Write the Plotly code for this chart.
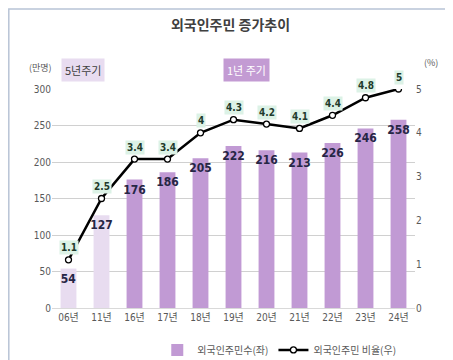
import plotly.graph_objects as go

years = ["06년", "11년", "16년", "17년", "18년", "19년", "20년", "21년", "22년", "23년", "24년"]
residents = [54, 127, 176, 186, 205, 222, 216, 213, 226, 246, 258]
ratio = [1.1, 2.5, 3.4, 3.4, 4.0, 4.3, 4.2, 4.1, 4.4, 4.8, 5.0]
ratio_labels = ["1.1", "2.5", "3.4", "3.4", "4", "4.3", "4.2", "4.1", "4.4", "4.8", "5"]
five_year_count = 2  # 06년, 11년 are the 5-year-cycle points

CJK = "Noto Sans CJK KR"
NARROW = "DejaVu Sans Condensed, Liberation Sans Narrow, Noto Sans CJK KR"
LIGHT = "#e8dcf0"
DARK = "#c19ad4"

fig = go.Figure()
bar_style = dict(width=0.48, textposition="inside", insidetextanchor="end", textangle=0,
                 constraintext="none", cliponaxis=False,
                 textfont=dict(family=NARROW, size=12, color="#262645"))
fig.add_trace(go.Bar(
    x=years[:five_year_count], y=residents[:five_year_count], name="외국인주민수(좌)",
    showlegend=False, marker=dict(color=LIGHT, line=dict(width=0)),
    text=["<b>" + str(v) + "</b>" for v in residents[:five_year_count]], **bar_style,
))
fig.add_trace(go.Bar(
    x=years[five_year_count:], y=residents[five_year_count:], name="외국인주민수(좌)",
    marker=dict(color=DARK, line=dict(width=0)),
    text=["<b>" + str(v) + "</b>" for v in residents[five_year_count:]], **bar_style,
))
fig.add_trace(go.Scatter(
    x=years, y=ratio, name="외국인주민 비율(우)", yaxis="y2",
    mode="lines+markers",
    line=dict(color="#000000", width=2.5),
    marker=dict(symbol="circle", size=6, color="white", line=dict(color="#000000", width=1.3)),
))

annotations = []
for yr, r, lab in zip(years, ratio, ratio_labels):
    annotations.append(dict(
        x=yr, y=r, xref="x", yref="y2", text="<b>" + lab + "</b>", showarrow=False,
        yshift=12, bgcolor="#dcf2e6", borderpad=1,
        font=dict(family=NARROW, size=10, color="#1f3a2c"),
    ))
annotations += [
    dict(x=0.085, y=1.087, xref="paper", yref="paper", text="5년주기", showarrow=False,
         xanchor="center", yanchor="middle", bgcolor="#e8dcf0", borderpad=3,
         font=dict(family=CJK, size=11, color="#404040")),
    dict(x=0.537, y=1.087, xref="paper", yref="paper", text="1년 주기", showarrow=False,
         xanchor="center", yanchor="middle", bgcolor="#c39bd3", borderpad=3,
         font=dict(family=CJK, size=11, color="#ffffff")),
    dict(x=-0.033, y=1.096, xref="paper", yref="paper", text="(만명)", showarrow=False,
         xanchor="center", yanchor="middle", font=dict(family=CJK, size=9, color="#595959")),
    dict(x=1.02, y=1.123, xref="paper", yref="paper", text="(%)", showarrow=False,
         xanchor="left", yanchor="middle", font=dict(family=CJK, size=9, color="#595959")),
]

fig.update_layout(
    width=445, height=352,
    margin=dict(l=44, r=38, t=81, b=52, autoexpand=False),
    paper_bgcolor="white", plot_bgcolor="white",
    title=dict(text="<b>외국인주민 증가추이</b>", x=0.5, xanchor="center", y=0.952, yanchor="middle",
               font=dict(family=CJK, size=14, color="#404040")),
    font=dict(family=NARROW, color="#595959"),
    barmode="overlay",
    showlegend=True,
    legend=dict(orientation="h", x=0.29, y=-0.125, xanchor="left", yanchor="top",
                font=dict(family=CJK, size=10, color="#595959"), itemwidth=30),
    xaxis=dict(type="category", categoryorder="array", categoryarray=years,
               range=[-0.5, 10.5], showgrid=False, showline=True,
               linecolor="#d9d9d9", ticks="", tickfont=dict(family=NARROW, size=10, color="#595959")),
    yaxis=dict(range=[0, 300], dtick=50, showgrid=True, gridcolor="#d0d0d0", zeroline=False,
               tickfont=dict(family=NARROW, size=10, color="#595959"), ticks=""),
    yaxis2=dict(range=[0, 5], dtick=1, overlaying="y", side="right", showgrid=False,
                zeroline=False, tickfont=dict(family=NARROW, size=10, color="#595959"), ticks=""),
    annotations=annotations,
    shapes=[dict(type="rect", xref="paper", yref="paper", x0=-0.119, x1=1.088, y0=-0.3, y1=1.365,
                 line=dict(color="#b8c4d6", width=1.5))],
)

fig.write_html("out.html")
